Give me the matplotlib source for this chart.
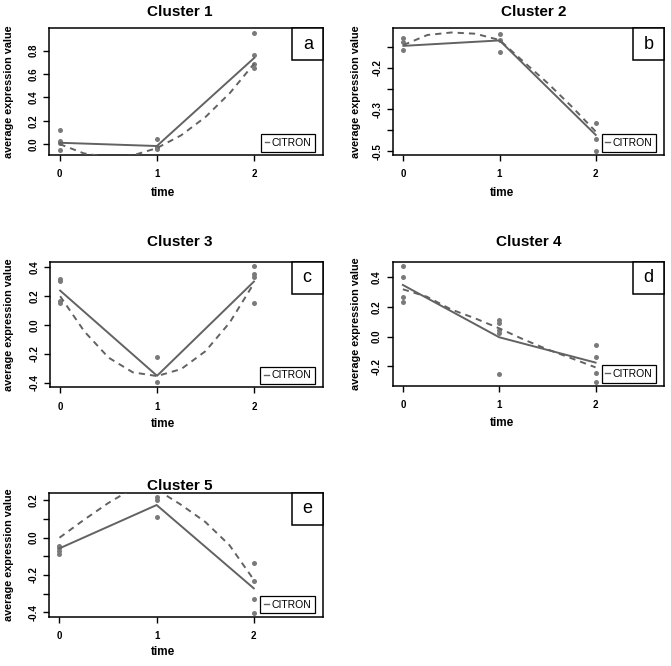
import matplotlib
matplotlib.use("Agg")
import matplotlib.pyplot as plt
from matplotlib.patches import Rectangle
from matplotlib.lines import Line2D

plt.rcParams['font.family'] = ['Liberation Sans', 'DejaVu Sans']

# ---------------- data ----------------
time_points = [0, 1, 2]
curve_t = [0, 0.25, 0.5, 0.75, 1.0, 1.25, 1.5, 1.75, 2.0]

c1_t0 = [0.12, 0.029, -0.052, 0.01]
c1_t1 = [0.04, -0.023, -0.046, -0.035]
c1_t2 = [0.948, 0.767, 0.687, 0.652]
c1_mean = [0.011, -0.017, 0.738]
c1_fit = [0.0, -0.08, -0.113, -0.098, -0.035, 0.075, 0.232, 0.437, 0.69]

c2_t0 = [-0.130, -0.138, -0.158]
c2_t1 = [-0.119, -0.134, -0.162]
c2_t2 = [-0.333, -0.371, -0.399]
c2_mean = [-0.148, -0.135, -0.361]
c2_fit = [-0.146, -0.122, -0.116, -0.119, -0.134, -0.186, -0.237, -0.293, -0.353]

c3_t0 = [0.318, 0.306, 0.169, 0.155]
c3_t1 = [-0.22, -0.394]
c3_t2 = [0.411, 0.353, 0.336, 0.151]
c3_mean = [0.239, -0.353, 0.302]
c3_fit = [0.2, -0.045, -0.227, -0.329, -0.355, -0.306, -0.182, 0.017, 0.29]

c4_t0 = [0.477, 0.403, 0.268, 0.23]
c4_t1 = [0.112, 0.094, 0.045, 0.027, -0.251]
c4_t2 = [-0.056, -0.139, -0.242, -0.304]
c4_mean = [0.347, -0.004, -0.174]
c4_fit = [0.318, 0.268, 0.183, 0.123, 0.056, -0.018, -0.085, -0.145, -0.206]

c5_t0 = [-0.043, -0.057, -0.071, -0.087]
c5_t1 = [0.22, 0.202, 0.112]
c5_t2 = [-0.137, -0.23, -0.33, -0.405]
c5_mean = [-0.057, 0.175, -0.271]
c5_fit = [0.0, 0.095, 0.185, 0.262, 0.258, 0.177, 0.085, -0.04, -0.225]

titles = ["Cluster 1", "Cluster 2", "Cluster 3", "Cluster 4", "Cluster 5"]
letters = ["a", "b", "c", "d", "e"]
legend_label = "CITRON"

yticks_list = [
    [0.0, 0.2, 0.4, 0.6, 0.8],
    [-0.15, -0.2, -0.25, -0.3, -0.35, -0.4],
    [-0.4, -0.2, 0.0, 0.2, 0.4],
    [-0.2, 0.0, 0.2, 0.4],
    [-0.4, -0.3, -0.2, -0.1, 0.0, 0.1, 0.2],
]
ytick_labels_list = [
    ["0.0", "0.2", "0.4", "0.6", "0.8"],
    ["", "-0.2", "", "-0.3", "", "-0.5"],
    ["-0.4", "-0.2", "0.0", "0.2", "0.4"],
    ["-0.2", "0.0", "0.2", "0.4"],
    ["-0.4", "", "-0.2", "", "0.0", "", "0.2"],
]
ylims = [(-0.094, 0.992), (-0.409, -0.106), (-0.433, 0.44), (-0.331, 0.503), (-0.423, 0.241)]

clusters = [
    (c1_t0, c1_t1, c1_t2, c1_mean, c1_fit),
    (c2_t0, c2_t1, c2_t2, c2_mean, c2_fit),
    (c3_t0, c3_t1, c3_t2, c3_mean, c3_fit),
    (c4_t0, c4_t1, c4_t2, c4_mean, c4_fit),
    (c5_t0, c5_t1, c5_t2, c5_mean, c5_fit),
]

# ---------------- layout (pixels) ----------------
W, H = 671, 666
# L, R, T, B of each plot box
boxes = [
    (49.3, 323.3, 28.3, 155.0),
    (393.3, 664.0, 28.3, 155.0),
    (50.0, 322.7, 261.7, 387.3),
    (392.7, 664.0, 261.7, 386.0),
    (49.3, 322.7, 492.7, 616.7),
]
title_pos = [(179.5, 12.5), (534, 12.5), (179.5, 242.5), (529, 242.5), (179.5, 486)]
xlabel_pos = [(163, 193), (502, 193), (163, 424), (502, 423), (163, 652)]
ylabel_x = [9, 356, 9, 356, 9]

point_color = "#7a7a7a"
line_color = "#626262"

fig = plt.figure(figsize=(W / 100, H / 100), dpi=100)


def fx(x):
    return x / W


def fy(y):
    return 1 - y / H


for i, (L, R, T, B) in enumerate(boxes):
    ax = fig.add_axes([L / W, 1 - B / H, (R - L) / W, (B - T) / H])
    t0, t1, t2, mean, fit = clusters[i]
    for tp, vals in zip(time_points, (t0, t1, t2)):
        ax.plot([tp] * len(vals), vals, 'o', color=point_color, markersize=3.6,
                markeredgewidth=0, zorder=3)
    ax.plot(time_points, mean, '-', color=line_color, lw=1.4, zorder=4)
    ax.plot(curve_t, fit, '--', color=line_color, lw=1.4, dashes=(3.2, 2.6), zorder=4)

    ax.set_xlim(-0.105, 2.71)
    ax.set_ylim(*ylims[i])
    ax.set_xticks(time_points)
    ax.set_xticklabels(["0", "1", "2"], fontsize=7, fontweight='bold')
    ax.set_yticks(yticks_list[i])
    ax.set_yticklabels(ytick_labels_list[i], fontsize=7, fontweight='bold',
                       rotation=90, va='center')
    ax.tick_params(axis='both', direction='out', length=4.3, width=1.0, color='black')
    ax.tick_params(axis='x', pad=6)
    ax.tick_params(axis='y', pad=3.5)
    for sp in ax.spines.values():
        sp.set_linewidth(1.1)
        sp.set_color('black')

    # letter box in top-right corner
    bw = 31.0 / (R - L)
    bh = 32.0 / (B - T)
    ax.add_patch(Rectangle((1 - bw, 1 - bh), bw, bh, transform=ax.transAxes,
                           facecolor='white', edgecolor='black', lw=1.1,
                           clip_on=False, zorder=6))
    ax.text(1 - bw / 2, 1 - bh / 2, letters[i], transform=ax.transAxes,
            ha='center', va='center', fontsize=13, zorder=7)

    # legend
    handle = Line2D([0], [0], color=line_color, lw=1.0)
    rx = 1 - 8.0 / (R - L)
    by = 3.5 / (B - T)
    leg = ax.legend([handle], [legend_label], loc='lower right',
                    bbox_to_anchor=(rx, by), fontsize=7.5, handlelength=0.45,
                    handletextpad=0.25, borderpad=0.35, borderaxespad=0,
                    fancybox=False, framealpha=1, edgecolor='black')
    leg.get_frame().set_linewidth(0.9)

    fig.text(fx(title_pos[i][0]), fy(title_pos[i][1]), titles[i], ha='center',
             va='center', fontsize=11, fontweight='bold')
    fig.text(fx(xlabel_pos[i][0]), fy(xlabel_pos[i][1]), "time", ha='center',
             va='center', fontsize=8.5, fontweight='bold')
    fig.text(fx(ylabel_x[i]), fy((T + B) / 2), "average expression value", ha='center',
             va='center', rotation=90, fontsize=7.8, fontweight='bold')

fig.savefig("out.png", dpi=100, facecolor='white')
